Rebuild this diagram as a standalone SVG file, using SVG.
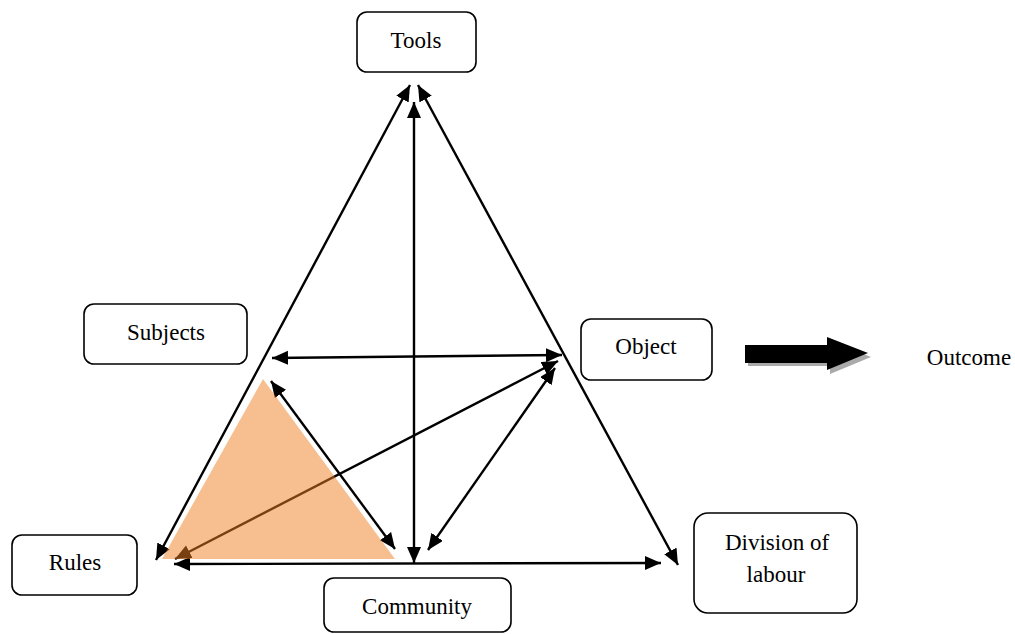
<svg xmlns="http://www.w3.org/2000/svg" width="1015" height="634" viewBox="0 0 1015 634">
<style>
.box{fill:#fff;stroke:#000;stroke-width:1.6}
.lbl{font-family:"Liberation Serif","Times New Roman",serif;font-size:23px;fill:#000;text-anchor:middle}
.ln{stroke:#000;stroke-width:2.4;fill:none;marker-start:url(#ah);marker-end:url(#ah)}
</style>
<defs>
<marker id="ah" markerUnits="userSpaceOnUse" markerWidth="17" markerHeight="15" refX="16" refY="7" orient="auto-start-reverse">
<path d="M0,0 L16,7 L0,14 z" fill="#000"/>
</marker>
</defs>
<rect width="1015" height="634" fill="#fff"/>
<g id="connectors">
<line class="ln" x1="410" y1="85" x2="156" y2="560"/>
<line class="ln" x1="418" y1="85" x2="678" y2="565"/>
<line class="ln" x1="414" y1="102" x2="414" y2="563"/>
<line class="ln" x1="174" y1="564" x2="661" y2="563"/>
<line class="ln" x1="272" y1="358" x2="562" y2="355"/>
<line class="ln" x1="558" y1="361" x2="175" y2="559"/>
<line class="ln" x1="271" y1="381" x2="395" y2="549"/>
<line class="ln" x1="428" y1="550" x2="555" y2="368"/>
</g>
<g id="shaded-triangle">
<polygon points="263,379 162,559 395,559" fill="#F07F22" fill-opacity="0.5"/>
</g>
<g id="tools">
<rect class="box" x="357" y="12" width="119" height="60" rx="10"/>
<text class="lbl" x="416" y="48">Tools</text>
</g>
<g id="subjects">
<rect class="box" x="84" y="304" width="163" height="60" rx="10"/>
<text class="lbl" x="166" y="340">Subjects</text>
</g>
<g id="object">
<rect class="box" x="581" y="319" width="131" height="61" rx="10"/>
<text class="lbl" x="646" y="354">Object</text>
</g>
<g id="rules">
<rect class="box" x="12" y="535" width="125" height="60" rx="10"/>
<text class="lbl" x="75" y="570">Rules</text>
</g>
<g id="community">
<rect class="box" x="324" y="578" width="187" height="54" rx="10"/>
<text class="lbl" x="417" y="614">Community</text>
</g>
<g id="division">
<rect class="box" x="694" y="513" width="163" height="100" rx="14"/>
<text class="lbl" x="777" y="550">Division of</text>
<text class="lbl" x="776" y="582">labour</text>
</g>
<g id="outcome-arrow">
<polygon points="748,348 830,348 830,340 871,357 830,374 830,366 748,366" fill="#aaa"/>
<polygon points="745,345 827,345 827,337 868,353 827,370 827,363 745,363" fill="#000"/>
</g>
<g id="outcome">
<text class="lbl" x="969" y="365">Outcome</text>
</g>
</svg>
